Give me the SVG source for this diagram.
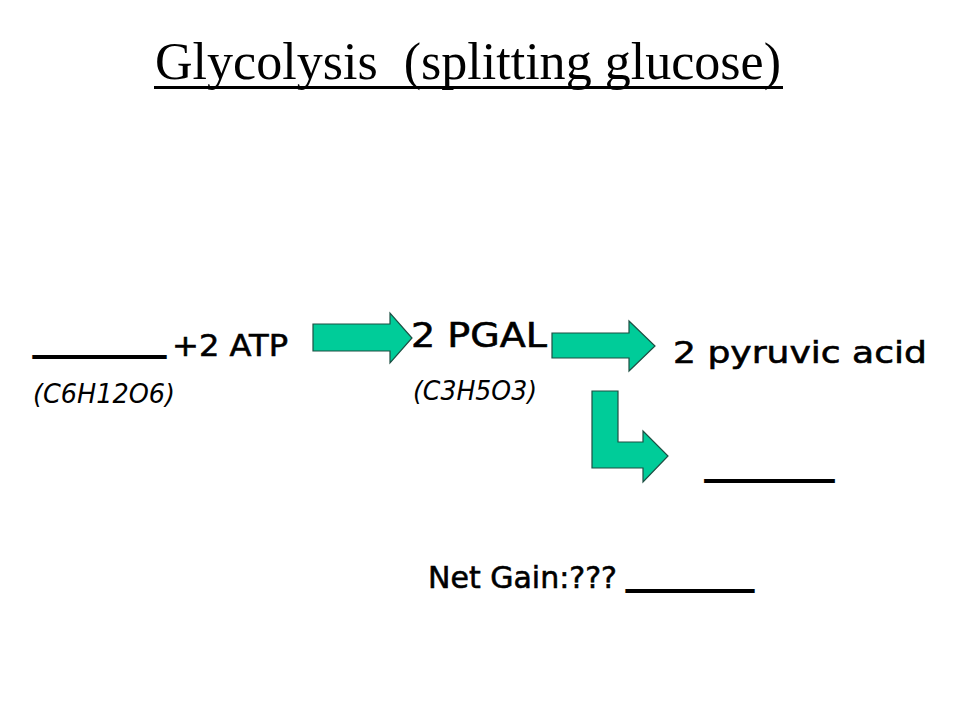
<svg xmlns="http://www.w3.org/2000/svg" width="960" height="720" viewBox="0 0 960 720">
<style>
.title{font-family:"Liberation Serif","Times New Roman",serif;font-size:52px;fill:#000;white-space:pre}
.lbl{font-family:"DejaVu Sans","Open Sans",sans-serif;font-size:31px;fill:#000;stroke:#000;stroke-width:0.6}
.big{font-size:33px}
.formula{font-family:"DejaVu Sans","Open Sans",sans-serif;font-size:26px;font-style:italic;fill:#000}
.blank{font-family:"DejaVu Sans",sans-serif;font-size:28px;fill:#000;stroke:#000;stroke-width:2}
.arrow{fill:#00CC99;stroke:#1d4f43;stroke-width:1.2;stroke-linejoin:miter}
</style>
<rect width="960" height="720" fill="#fff"/>
<g id="title">
<text class="title" x="155" y="79" textLength="626" lengthAdjust="spacingAndGlyphs" xml:space="preserve">Glycolysis  (splitting glucose)</text>
<line x1="154" y1="87.5" x2="783" y2="87.5" stroke="#000" stroke-width="3"/>
</g>
<g id="glucose">
<text class="blank" x="34" y="351" textLength="131" lengthAdjust="spacingAndGlyphs">_______</text>
<text class="lbl" x="172" y="356" textLength="116" lengthAdjust="spacingAndGlyphs">+2 ATP</text>
<text class="formula" x="33" y="403" textLength="142" lengthAdjust="spacingAndGlyphs">(C6H12O6)</text>
</g>
<g id="pgal">
<text class="lbl big" x="411" y="347" textLength="136" lengthAdjust="spacingAndGlyphs">2 PGAL</text>
<text class="formula" x="413" y="400" textLength="124" lengthAdjust="spacingAndGlyphs">(C3H5O3)</text>
</g>
<g id="pyruvic">
<text class="lbl" x="673" y="363" textLength="254" lengthAdjust="spacingAndGlyphs">2 pyruvic acid</text>
</g>
<g id="product">
<text class="blank" x="706" y="475" textLength="127" lengthAdjust="spacingAndGlyphs">______</text>
</g>
<g id="netgain">
<text class="lbl" x="428" y="588" textLength="189" lengthAdjust="spacingAndGlyphs">Net Gain:???</text>
<text class="blank" x="627" y="585" textLength="126" lengthAdjust="spacingAndGlyphs">_______</text>
</g>
<g id="connectors">
<polygon class="arrow" points="313,324 390,324 390,313 412,338 390,363 390,351 313,351"/>
<polygon class="arrow" points="552,333 629,333 629,321 655,346 629,371 629,358 552,358"/>
<polygon class="arrow" points="592,391 618,391 618,442 643,442 643,431 668,456 643,482 643,468 592,468"/>
</g>
</svg>
